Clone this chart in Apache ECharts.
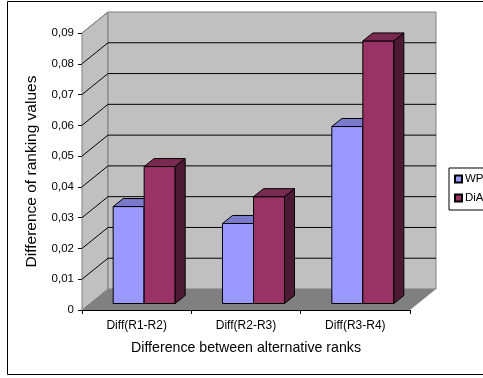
<!DOCTYPE html>
<html><head><meta charset="utf-8">
<style>html,body{margin:0;padding:0;background:#fff;overflow:hidden}#c{width:483px;height:378px}</style>
<script src="https://cdn.jsdelivr.net/npm/echarts@6/dist/echarts.min.js"></script>
</head><body><div id="c"></div>
<script>
var categories = ['Diff(R1-R2)', 'Diff(R2-R3)', 'Diff(R3-R4)'];
var wpm = [0.0315, 0.026, 0.0575];
var dia = [0.0445, 0.0347, 0.0853];
var yTicks = [0,0.01,0.02,0.03,0.04,0.05,0.06,0.07,0.08,0.09];
var seriesNames = ['WPM','DiA'];

var F = 'Liberation Sans';
var chart = echarts.init(document.getElementById('c'), null, {renderer:'canvas'});
var DX = 26, DY = -21;   // wall depth
var BDX = 10, BDY = -8;  // bar depth
var BSHIFT = 7.5, BOY = -6.5;

function poly(points, fill, stroke, lw){
  return {type:'polygon', shape:{points:points}, style:{fill:fill, stroke:stroke||null, lineWidth:lw||0}};
}
function wallsRender(params, api){
  var x0 = params.coordSys.x, x1 = x0 + params.coordSys.width;
  var y0 = api.coord([0,0])[1], yT = api.coord([0,0.09])[1];
  var ch = [
    poly([[x0,y0],[x0+DX,y0+DY],[x0+DX,yT+DY],[x0,yT]], '#c0c0c0', '#808080', 1),
    poly([[x0+DX,y0+DY],[x1+DX,y0+DY],[x1+DX,yT+DY],[x0+DX,yT+DY]], '#c0c0c0', '#808080', 1),
    poly([[x0,y0],[x1,y0],[x1+DX,y0+DY],[x0+DX,y0+DY]], '#808080', null, 0)
  ];
  yTicks.forEach(function(v){
    if(v===0 || v===0.09) return;
    var y = api.coord([0,v])[1];
    ch.push({type:'polyline', shape:{points:[[x0,y],[x0+DX,y+DY],[x1+DX,y+DY]]}, style:{fill:null, stroke:'#000', lineWidth:1}});
  });
  ch.push({type:'line', shape:{x1:x0,y1:yT,x2:x0+DX,y2:yT+DY}, style:{stroke:'#808080', lineWidth:1}});
  return {type:'group', children:ch};
}
function barRender(idx, front, top, side){
  return function(params, api){
    var cat = api.value(0), v = api.value(1);
    var w = 31;
    var cx = api.coord([cat,0])[0] + BSHIFT;
    var x = cx + (idx===0 ? -w : 0);
    var yb = api.coord([0,0])[1] + BOY;
    var yt = api.coord([0,v])[1] + BOY;
    return {type:'group', children:[
      poly([[x,yb],[x+w,yb],[x+w,yt],[x,yt]], front, '#000', 1),
      poly([[x,yt],[x+w,yt],[x+w+BDX,yt+BDY],[x+BDX,yt+BDY]], top, '#000', 1),
      poly([[x+w,yb],[x+w+BDX,yb+BDY],[x+w+BDX,yt+BDY],[x+w,yt]], side, '#000', 1)
    ]};
  };
}
var option = {
  animation:false,
  backgroundColor:'#fff',
  textStyle:{fontFamily:F},
  graphic:[{type:'rect', z:-10, shape:{x:7.5,y:1.5,width:480,height:373}, style:{fill:'#fff',stroke:'#000',lineWidth:1}}],
  legend:{orient:'vertical', left:449, top:168, padding:[5,8,6,5], itemGap:7, itemWidth:7, itemHeight:7,
    backgroundColor:'#fff', borderColor:'#000', borderWidth:1, icon:'rect',
    textStyle:{fontFamily:F, fontSize:11.5, color:'#000', padding:[0,0,0,-2]},
    data:seriesNames},
  grid:{left:82, top:33, width:328, height:277, containLabel:false},
  xAxis:{type:'category', data:categories, boundaryGap:true,
    name:'Difference between alternative ranks', nameLocation:'middle', nameGap:31,
    nameTextStyle:{fontFamily:F,fontSize:14.2,color:'#000'},
    axisLine:{show:true,lineStyle:{color:'#000',width:1}},
    axisTick:{show:true,alignWithLabel:false,length:4,lineStyle:{color:'#000'}},
    axisLabel:{fontFamily:F,fontSize:12,color:'#000',margin:10},
    splitLine:{show:false}},
  yAxis:{type:'value', min:0, max:0.09, interval:0.01,
    name:'Difference of ranking values', nameLocation:'middle', nameGap:42,
    nameTextStyle:{fontFamily:F,fontSize:15.5,color:'#000'},
    axisLine:{show:true,lineStyle:{color:'#000',width:1}},
    axisTick:{show:true,length:4,lineStyle:{color:'#000'}},
    axisLabel:{fontFamily:F,fontSize:11.5,color:'#000',margin:8,
      formatter:function(v){return v===0?'0':v.toFixed(2).replace('.',',');}},
    splitLine:{show:false}},
  series:[
    {type:'custom', name:'walls', silent:true, z:1, renderItem:wallsRender, data:[[0,0]], encode:{x:0,y:1}, clip:false},
    {type:'custom', name:seriesNames[0], z:2, itemStyle:{color:'#9999ff',borderColor:'#000',borderWidth:1},
      renderItem:barRender(0,'#9999ff','#7a7acc','#4d4d80'), clip:false, encode:{x:0,y:1},
      data:wpm.map(function(v,i){return [i,v];})},
    {type:'custom', name:seriesNames[1], z:3, itemStyle:{color:'#993366',borderColor:'#000',borderWidth:1},
      renderItem:barRender(1,'#993366','#7a2952','#4d1a33'), clip:false, encode:{x:0,y:1},
      data:dia.map(function(v,i){return [i,v];})}
  ]
};
chart.setOption(option);
</script></body></html>
